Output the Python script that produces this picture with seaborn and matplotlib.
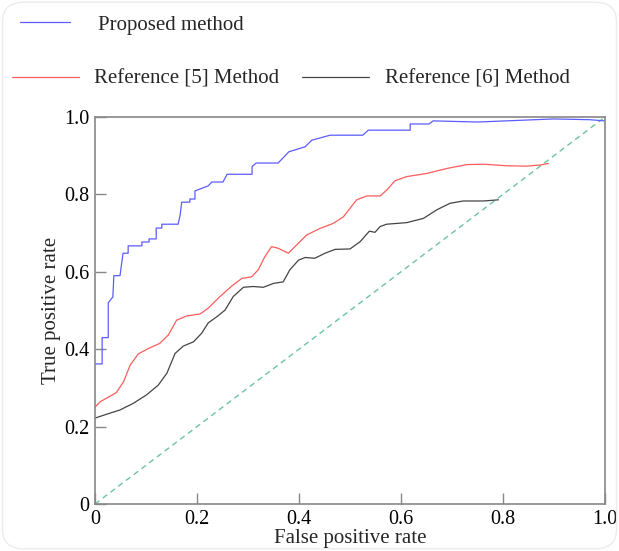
import numpy as np
import pandas as pd
import seaborn as sns
import matplotlib
matplotlib.use('Agg')
import matplotlib.pyplot as plt
from matplotlib.patches import FancyBboxPatch

# Proposed method (stepped ROC curve)
proposed_fpr = [0, 0.014, 0.014, 0.026, 0.026, 0.035, 0.037, 0.049, 0.055, 0.065, 0.065,
                0.092, 0.092, 0.106, 0.106, 0.12, 0.12, 0.131, 0.131, 0.163, 0.167, 0.17,
                0.186, 0.186, 0.196, 0.196, 0.222, 0.229, 0.251, 0.259, 0.308, 0.308,
                0.316, 0.359, 0.38, 0.412, 0.425, 0.461, 0.525, 0.536, 0.618, 0.618,
                0.655, 0.663, 0.75, 0.9, 0.97, 1.0]
proposed_tpr = [0.362, 0.362, 0.43, 0.43, 0.52, 0.535, 0.59, 0.59, 0.648, 0.648, 0.667,
                0.667, 0.677, 0.677, 0.685, 0.685, 0.713, 0.713, 0.723, 0.723, 0.747, 0.78,
                0.78, 0.788, 0.788, 0.809, 0.822, 0.832, 0.832, 0.852, 0.852, 0.872,
                0.881, 0.881, 0.91, 0.923, 0.94, 0.953, 0.953, 0.966, 0.966, 0.982,
                0.982, 0.99, 0.987, 0.995, 0.993, 0.99]

# Reference [5]
ref5_fpr = [0, 0.01, 0.026, 0.042, 0.056, 0.069, 0.085, 0.105, 0.127, 0.144, 0.16,
            0.18, 0.206, 0.222, 0.245, 0.268, 0.288, 0.307, 0.32, 0.333, 0.346, 0.359,
            0.379, 0.395, 0.415, 0.441, 0.467, 0.487, 0.5, 0.513, 0.533, 0.559, 0.572,
            0.588, 0.611, 0.65, 0.69, 0.729, 0.762, 0.807, 0.846, 0.873, 0.889]
ref5_tpr = [0.25, 0.264, 0.276, 0.288, 0.316, 0.359, 0.388, 0.402, 0.415, 0.437, 0.475,
            0.486, 0.491, 0.506, 0.536, 0.563, 0.583, 0.587, 0.605, 0.639, 0.665, 0.661,
            0.648, 0.669, 0.695, 0.712, 0.725, 0.742, 0.764, 0.786, 0.796, 0.796, 0.811,
            0.835, 0.846, 0.854, 0.867, 0.877, 0.878, 0.874, 0.873, 0.876, 0.88]

# Reference [6]
ref6_fpr = [0, 0.023, 0.049, 0.075, 0.101, 0.124, 0.141, 0.157, 0.173, 0.193, 0.209,
            0.222, 0.239, 0.255, 0.271, 0.291, 0.31, 0.33, 0.35, 0.369, 0.382, 0.399,
            0.412, 0.431, 0.451, 0.471, 0.5, 0.52, 0.538, 0.549, 0.559, 0.572, 0.611,
            0.644, 0.67, 0.696, 0.722, 0.762, 0.791]
ref6_tpr = [0.222, 0.232, 0.243, 0.26, 0.282, 0.307, 0.338, 0.389, 0.408, 0.419, 0.441,
            0.468, 0.484, 0.501, 0.536, 0.56, 0.562, 0.56, 0.57, 0.574, 0.605, 0.63,
            0.637, 0.635, 0.648, 0.658, 0.659, 0.678, 0.705, 0.702, 0.717, 0.723, 0.727,
            0.738, 0.76, 0.777, 0.783, 0.783, 0.786]

chance = [0, 1]
ticks = [0, 0.2, 0.4, 0.6, 0.8, 1.0]
tick_labels = ["0", "0.2", "0.4", "0.6", "0.8", "1.0"]

sns.set_theme(style="white")
plt.rcParams['font.family'] = ['Liberation Serif', 'DejaVu Serif']

fig = plt.figure(figsize=(6.19, 5.51), dpi=100)
ax = fig.add_axes([95 / 619, 1 - 504 / 551, 510 / 619, 387 / 551])

sns.lineplot(x=chance, y=chance, ax=ax, color="#6cc3a0", lw=1.0,
             linestyle=(0, (4, 3)), estimator=None, sort=False)
sns.lineplot(x=ref6_fpr, y=ref6_tpr, ax=ax, color="#444444", lw=0.9,
             estimator=None, sort=False)
sns.lineplot(x=ref5_fpr, y=ref5_tpr, ax=ax, color="#ff5c5c", lw=0.9,
             estimator=None, sort=False)
sns.lineplot(x=proposed_fpr, y=proposed_tpr, ax=ax, color="#5c5cff", lw=0.9,
             estimator=None, sort=False)

ax.set_xlim(0, 1)
ax.set_ylim(0, 1)
ax.set_xticks(ticks)
ax.set_xticklabels(tick_labels)
ax.set_yticks(ticks)
ax.set_yticklabels(tick_labels)
ax.tick_params(direction='in', length=8, width=1, color="#888888",
               labelsize=14.5, labelcolor="black", pad=4,
               bottom=True, left=True, top=False, right=False)
for sp in ax.spines.values():
    sp.set_color("#888888")
    sp.set_linewidth(1.2)
ax.set_xlabel("False positive rate", fontsize=15, labelpad=0)
ax.set_ylabel("True positive rate", fontsize=15, labelpad=2)

# legend rows
h_prop = plt.Line2D([], [], color="#5c5cff", lw=0.9)
h_r5 = plt.Line2D([], [], color="#ff5c5c", lw=0.9)
h_r6 = plt.Line2D([], [], color="#444444", lw=0.9)
fig.legend([h_prop], ["Proposed method"], loc='center left',
           bbox_to_anchor=(20 / 619, 1 - 25 / 551), frameon=False,
           fontsize=15, handlelength=2.4, handletextpad=1.35,
           borderpad=0, borderaxespad=0)
fig.legend([h_r5, h_r6], ["Reference [5] Method", "Reference [6] Method"],
           loc='center left', bbox_to_anchor=(12 / 619, 1 - 79 / 551),
           ncol=2, frameon=False, fontsize=15, handlelength=3.2,
           handletextpad=0.75, columnspacing=1.1, borderpad=0, borderaxespad=0)

# faint rounded frame around the figure
frame = FancyBboxPatch((0.004, 0.004), 0.992, 0.992, transform=fig.transFigure,
                       boxstyle="round,pad=0,rounding_size=0.035",
                       facecolor="none", edgecolor="#ececec", lw=1.0)
fig.patches.append(frame)

fig.savefig("out.png", dpi=100)
